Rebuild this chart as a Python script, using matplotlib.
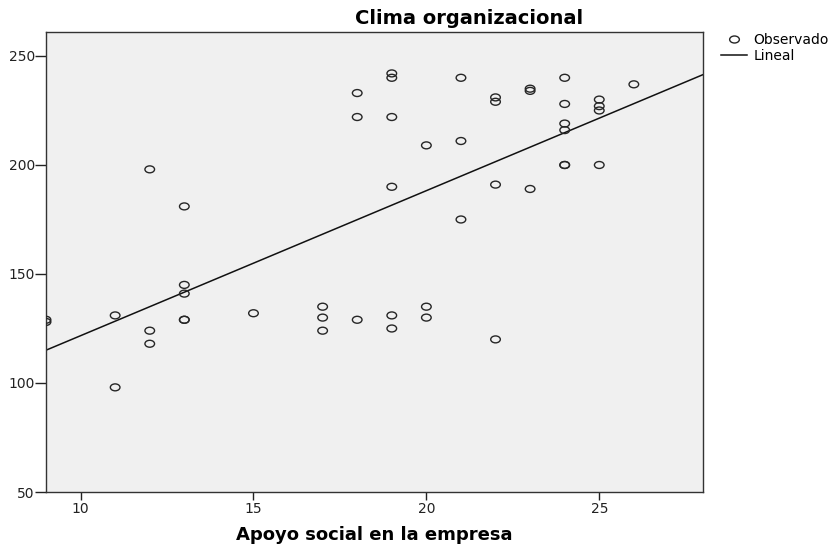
import numpy as np
import matplotlib
matplotlib.use('Agg')
import matplotlib.pyplot as plt
from matplotlib.path import Path
from matplotlib.transforms import Affine2D
from matplotlib.lines import Line2D

# Datos (Apoyo social vs Clima organizacional)
apoyo = [9, 9,
         11, 11,
         12, 12, 12,
         13, 13, 13, 13, 13,
         15,
         17, 17, 17,
         18, 18, 18,
         19, 19, 19, 19, 19, 19,
         20, 20, 20,
         21, 21, 21,
         22, 22, 22, 22,
         23, 23, 23,
         24, 24, 24, 24, 24, 24,
         25, 25, 25, 25,
         26]
clima = [128, 129,
         131, 98,
         198, 124, 118,
         181, 145, 141, 129, 129,
         132,
         135, 130, 124,
         233, 222, 129,
         242, 240, 222, 190, 131, 125,
         209, 135, 130,
         240, 211, 175,
         231, 229, 191, 120,
         235, 234, 189,
         240, 228, 219, 216, 200, 200,
         230, 227, 225, 200,
         237]

x_ticks = [10, 15, 20, 25]
y_ticks = [50, 100, 150, 200, 250]

x = np.array(apoyo, dtype=float)
y = np.array(clima, dtype=float)
pendiente, intercepto = np.polyfit(x, y, 1)

# marcador eliptico (el original esta achatado)
elipse = Path.unit_circle().transformed(Affine2D().scale(1.0, 0.72))

fig = plt.figure(figsize=(8.36, 5.44), dpi=100)
ax = fig.add_axes([46 / 836, 1 - 492 / 544, (703 - 46) / 836, (492 - 32) / 544])
ax.set_facecolor('#f0f0f0')

xmin, xmax = 9, 28
ax.scatter(x, y, marker=elipse, s=48, facecolors='none', edgecolors='#262626',
           linewidths=1.0, zorder=3)
xl = np.array([xmin, xmax])
ax.plot(xl, intercepto + pendiente * xl, color='#111111', linewidth=1.1, zorder=2)

ax.set_xlim(xmin, xmax)
ax.set_ylim(50, 261)
ax.set_xticks(x_ticks)
ax.set_yticks(y_ticks)
ax.tick_params(axis='y', direction='out', length=8, width=1, pad=0,
               labelsize=10, colors='#222222')
ax.tick_params(axis='x', direction='out', length=5.5, width=1, pad=2,
               labelsize=10, colors='#222222')
for s in ax.spines.values():
    s.set_color('#333333')
    s.set_linewidth(1.0)

ax.set_xlabel('Apoyo social en la empresa', fontsize=13, fontweight='bold')
ax.xaxis.label.set_va('center')
ax.xaxis.set_label_coords(0.5, -43 / 460)
fig.text(469 / 836, 1 - 18 / 544, 'Clima organizacional', fontsize=14,
         fontweight='bold', ha='center', va='center')

# leyenda
h_obs = Line2D([], [], marker=elipse, markersize=7, markerfacecolor='none',
               markeredgecolor='#262626', markeredgewidth=1.0, linestyle='none')
h_lin = Line2D([], [], color='#111111', linewidth=1.1)
fig.legend([h_obs, h_lin], ['Observado', 'Lineal'], loc='upper left',
           bbox_to_anchor=(721 / 836, 1 - 33 / 544), frameon=False, fontsize=10,
           handlelength=1.9, handletextpad=0.45, labelspacing=0.15, borderpad=0,
           borderaxespad=0)

fig.savefig('out.png', dpi=100)
